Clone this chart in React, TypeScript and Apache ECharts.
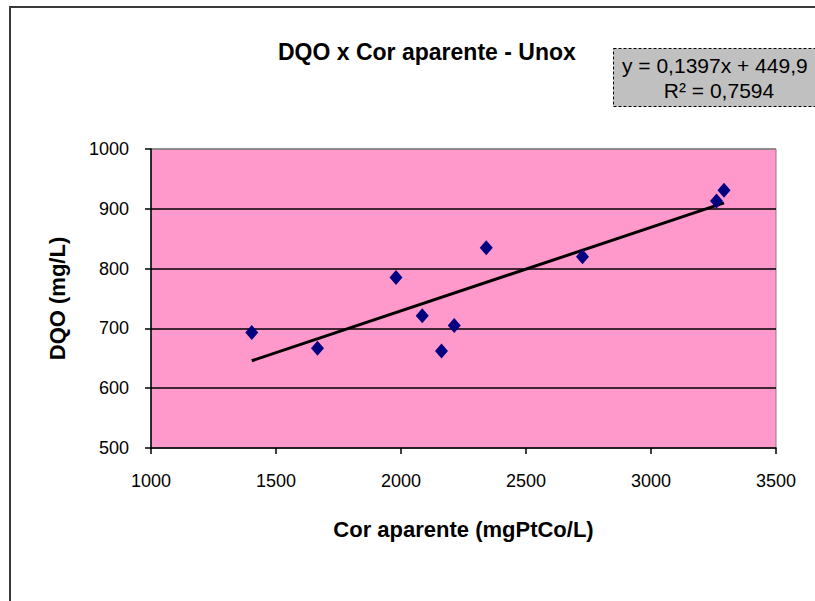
import React, { useEffect, useRef } from "react";
import * as echarts from "echarts";

const chartTitle = "DQO x Cor aparente - Unox";
const xAxisTitle = "Cor aparente (mgPtCo/L)";
const yAxisTitle = "DQO (mg/L)";

const corAparente = [1403, 1666, 1980, 2085, 2162, 2213, 2341, 2726, 3262, 3292];
const dqo = [693, 667, 785, 721, 662, 705, 835, 820, 913, 931];

const trendSlope = 0.1397;
const trendIntercept = 449.9;
const equationText = "y = 0,1397x + 449,9";
const r2Text = "R² = 0,7594";

const xMin = 1000, xMax = 3500, xStep = 500;
const yMin = 500, yMax = 1000, yStep = 100;

const FONT = "Arial, 'Liberation Sans', sans-serif";

export default function App() {
  const ref = useRef<HTMLDivElement>(null);
  useEffect(() => {
    document.body.style.margin = "0";
    if (!ref.current) return;
    const chart = echarts.init(ref.current, undefined, { renderer: "svg" });
    const points = corAparente.map((x, i) => [x, dqo[i]]);
    const tx0 = Math.min(...corAparente);
    const tx1 = Math.max(...corAparente);
    const trend = [
      [tx0, trendSlope * tx0 + trendIntercept],
      [tx1, trendSlope * tx1 + trendIntercept],
    ];
    chart.setOption({
      animation: false,
      backgroundColor: "#ffffff",
      title: {
        text: chartTitle,
        left: 273,
        top: 35,
        textStyle: { fontFamily: FONT, fontSize: 23, fontWeight: "bold", color: "#000" },
      },
      grid: {
        left: 151,
        right: 39,
        top: 149,
        bottom: 153,
        show: true,
        backgroundColor: "#FF99CC",
        borderColor: "#808080",
        borderWidth: 1,
      },
      xAxis: {
        type: "value",
        min: xMin,
        max: xMax,
        interval: xStep,
        name: xAxisTitle,
        nameLocation: "middle",
        nameGap: 70,
        nameTextStyle: { fontFamily: FONT, fontSize: 22, fontWeight: "bold", color: "#000" },
        axisLine: { show: true, lineStyle: { color: "#000", width: 1.5 } },
        axisTick: { show: true, length: 6, inside: false, lineStyle: { color: "#000", width: 1.5 } },
        axisLabel: {
          margin: 24,
          fontFamily: FONT,
          fontSize: 18,
          color: "#000",
          formatter: (v: number) => String(v),
        },
        splitLine: { show: false },
      },
      yAxis: {
        type: "value",
        min: yMin,
        max: yMax,
        interval: yStep,
        name: yAxisTitle,
        nameLocation: "middle",
        nameGap: 83,
        nameTextStyle: { fontFamily: FONT, fontSize: 22, fontWeight: "bold", color: "#000" },
        axisLine: { show: true, lineStyle: { color: "#000", width: 1.5 } },
        axisTick: { show: true, length: 6, inside: false, lineStyle: { color: "#000", width: 1.5 } },
        axisLabel: {
          margin: 22,
          fontFamily: FONT,
          fontSize: 18,
          color: "#000",
          formatter: (v: number) => String(v),
        },
        splitLine: {
          show: true,
          lineStyle: {
            color: ["#808080", "#000", "#000", "#000", "#000", "#808080"],
            width: 1.5,
          },
        },
      },
      series: [
        {
          type: "line",
          data: trend,
          symbol: "none",
          lineStyle: { color: "#000", width: 3 },
          z: 2,
        },
        {
          type: "scatter",
          data: points,
          symbol: "diamond",
          symbolSize: [13, 15],
          itemStyle: { color: "#000080", opacity: 1 },
          z: 3,
        },
      ],
      graphic: [
        {
          type: "rect",
          shape: { x: 10, y: 7, width: 900, height: 700 },
          style: { fill: "none", stroke: "#3a3a3a", lineWidth: 2 },
          silent: true,
          z: 100,
        },
        {
          type: "rect",
          shape: { x: 613.5, y: 48.5, width: 250, height: 58 },
          style: { fill: "#C0C0C0", stroke: "#000", lineWidth: 1, lineDash: [3, 2] },
          z: 100,
        },
        {
          type: "text",
          x: 622,
          y: 65,
          style: {
            text: equationText,
            fontFamily: FONT,
            fontSize: 21,
            fill: "#000",
            textAlign: "left",
            textVerticalAlign: "middle",
          },
          z: 101,
        },
        {
          type: "text",
          x: 719,
          y: 90,
          style: {
            text: r2Text,
            fontFamily: FONT,
            fontSize: 21,
            fill: "#000",
            textAlign: "center",
            textVerticalAlign: "middle",
          },
          z: 101,
        },
      ],
    });
    return () => chart.dispose();
  }, []);
  return <div ref={ref} style={{ width: 815, height: 601 }} />;
}
